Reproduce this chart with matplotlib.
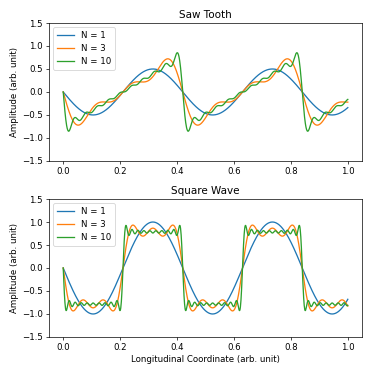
import numpy as np
import matplotlib
matplotlib.use('Agg')
import matplotlib.pyplot as plt

# partial Fourier sums, N terms each
n_terms = [1, 3, 10]
labels = ['N = 1', 'N = 3', 'N = 10']
wavelength = 0.42          # period along the coordinate
saw_amp = 0.5              # amplitude of first saw tooth harmonic
square_amp = 1.0           # amplitude of first square wave harmonic

x = np.linspace(0, 1, 1000)
theta = 2 * np.pi * x / wavelength

def saw_tooth(n):
    k = np.arange(1, n + 1)
    return -saw_amp * np.sum(np.sin(np.outer(k, theta)) / k[:, None], axis=0)

def square_wave(n):
    k = 2 * np.arange(1, n + 1) - 1
    return -square_amp * np.sum(np.sin(np.outer(k, theta)) / k[:, None], axis=0)

fig, (ax1, ax2) = plt.subplots(2, 1, figsize=(6, 6), dpi=374 / 6)
fig.subplots_adjust(left=0.131, right=0.968, top=0.9385, bottom=0.099, hspace=0.276)

for n, lab in zip(n_terms, labels):
    ax1.plot(x, saw_tooth(n), label=lab)
    ax2.plot(x, square_wave(n), label=lab)

ax1.set_title('Saw Tooth')
ax2.set_title('Square Wave')
for ax in (ax1, ax2):
    ax.set_ylim(-1.5, 1.5)
    ax.set_ylabel('Amplitude (arb. unit)')
    ax.legend(loc='upper left')
ax2.set_xlabel('Longitudinal Coordinate (arb. unit)')

plt.savefig('out.png')
